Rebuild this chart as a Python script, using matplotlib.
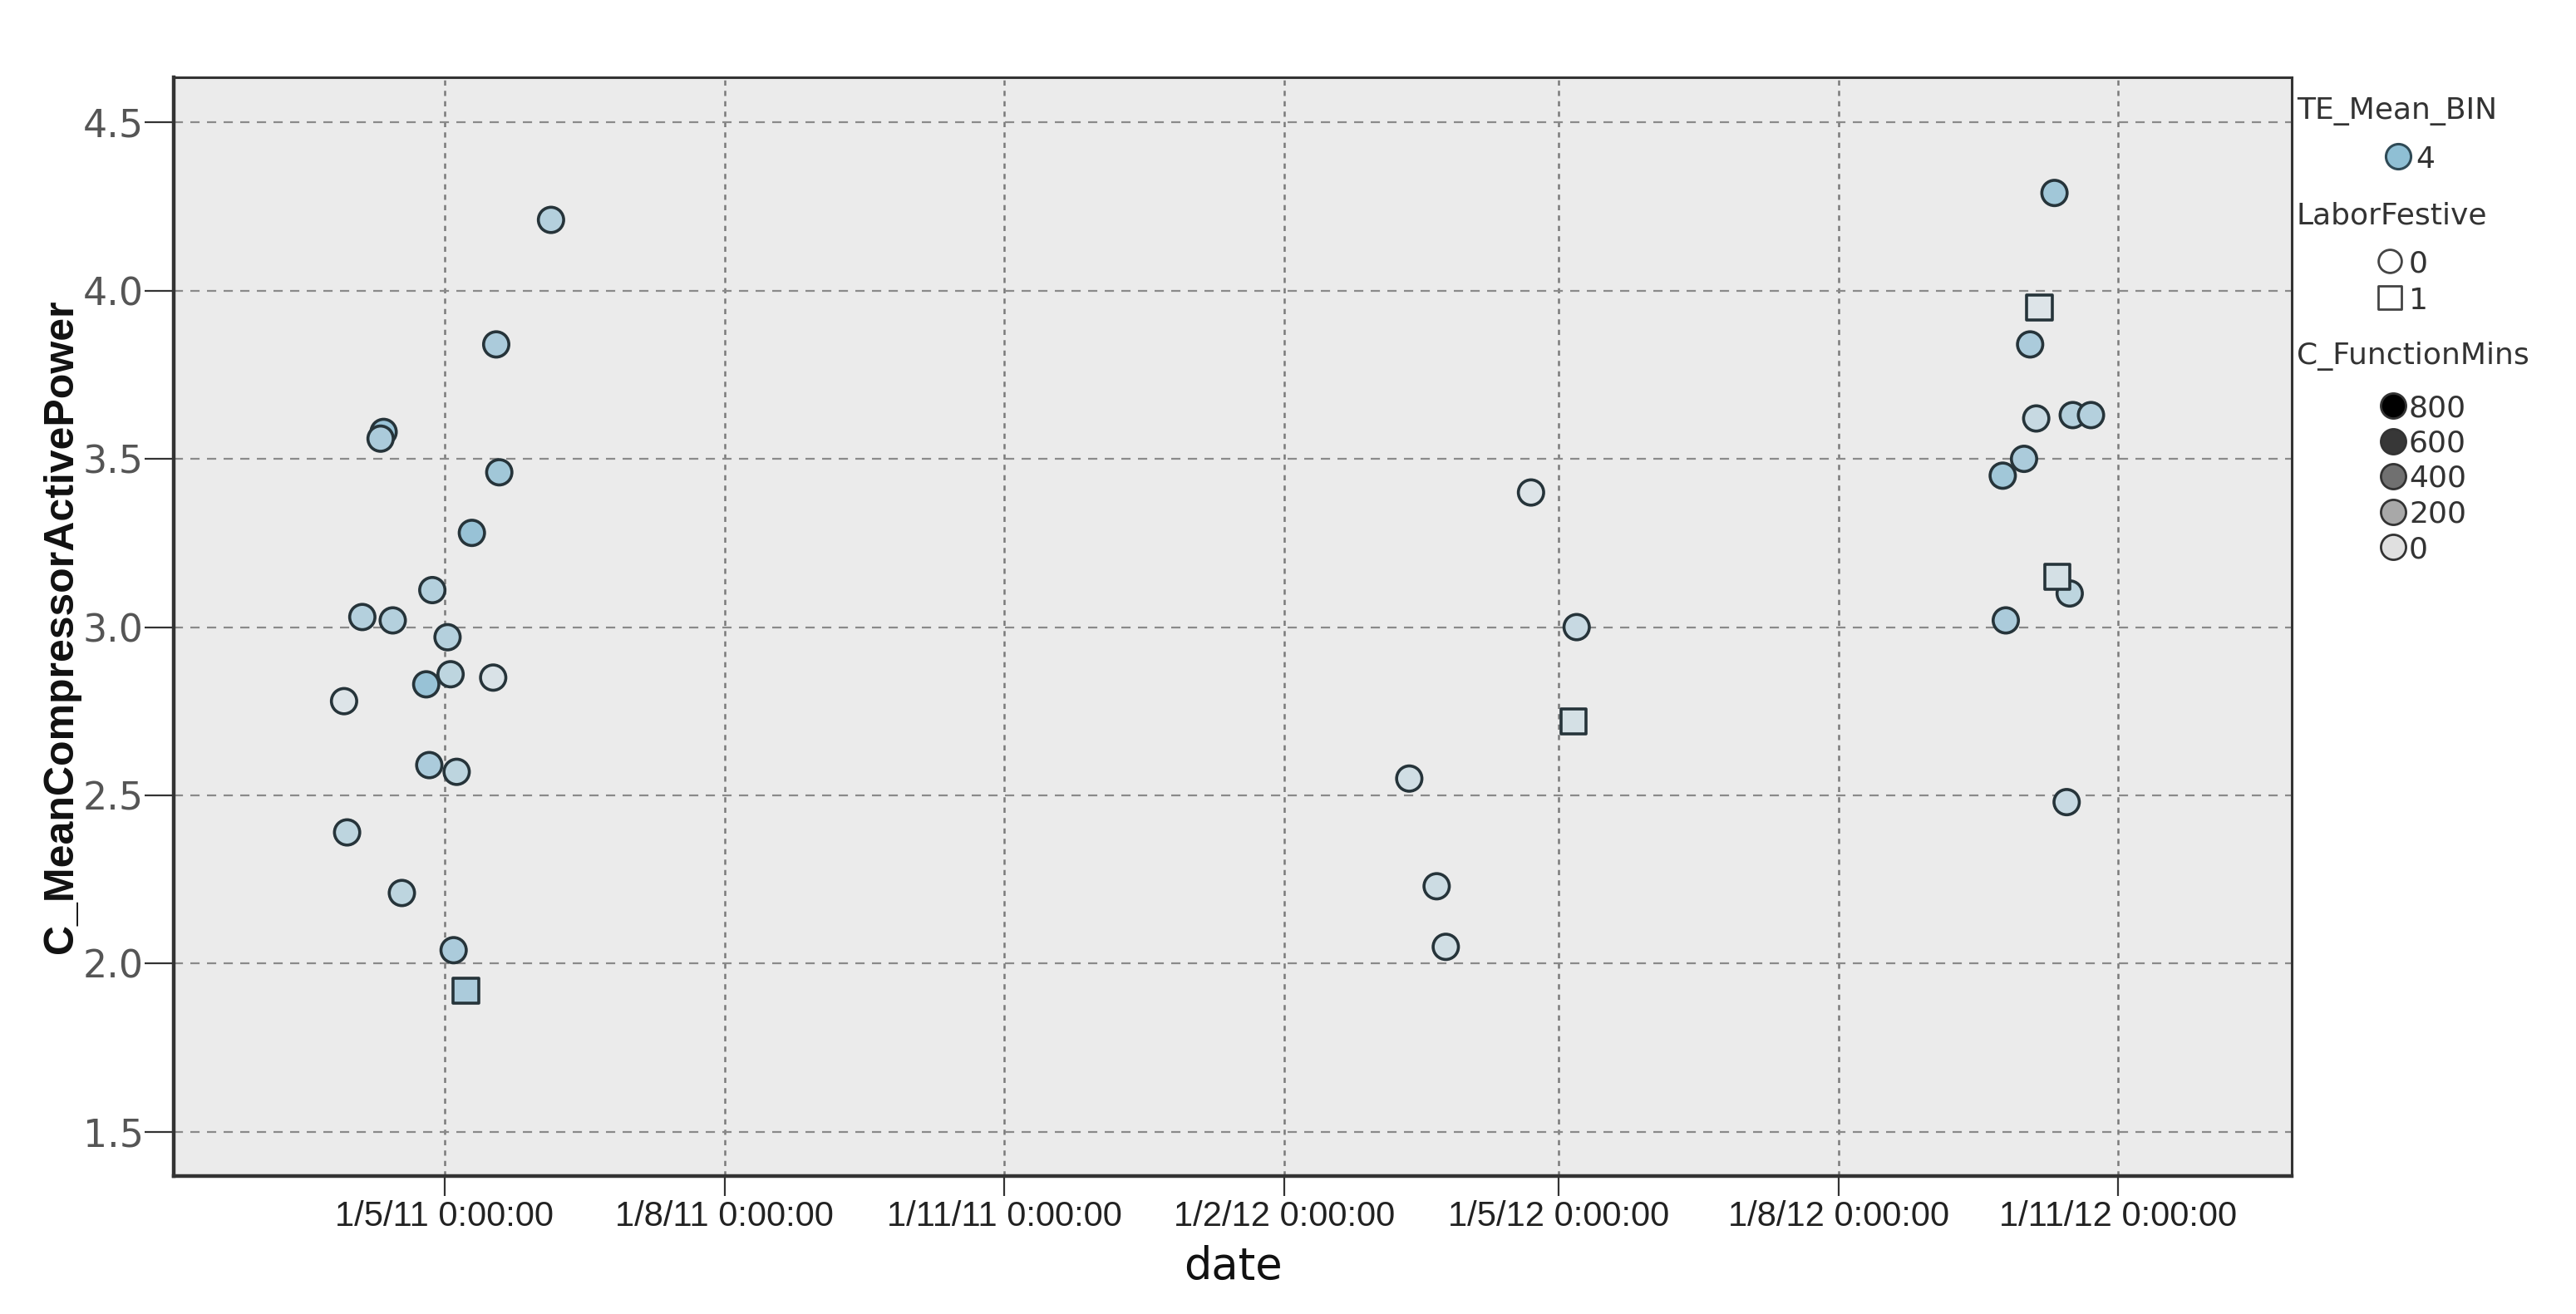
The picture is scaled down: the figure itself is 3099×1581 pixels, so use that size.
import datetime as dt
import matplotlib
matplotlib.use('Agg')
import matplotlib.pyplot as plt
import matplotlib.dates as mdates
from matplotlib.colors import LinearSegmentedColormap

# Data (date, mean compressor active power, labor festive flag, function mins)
dates = ['2011-06-05', '2011-05-18', '2011-04-11', '2011-04-10', '2011-05-19', '2011-05-10',
         '2011-04-27', '2011-04-04', '2011-04-14', '2011-05-02', '2011-05-03', '2011-04-25',
         '2011-05-17', '2011-03-29', '2011-04-26', '2011-05-05', '2011-03-30', '2011-04-17',
         '2011-05-04', '2011-05-08',
         '2012-03-13', '2012-03-22', '2012-03-25', '2012-04-22', '2012-05-07', '2012-05-06',
         '2012-10-11', '2012-10-06', '2012-10-03', '2012-10-05', '2012-10-17', '2012-10-23',
         '2012-10-01', '2012-09-24', '2012-10-12', '2012-10-16', '2012-09-25', '2012-10-15']
power = [4.21, 3.84, 3.58, 3.56, 3.46, 3.28,
         3.11, 3.03, 3.02, 2.97, 2.86, 2.83,
         2.85, 2.78, 2.59, 2.57, 2.39, 2.21,
         2.04, 1.92,
         2.55, 2.23, 2.05, 3.40, 3.00, 2.72,
         4.29, 3.95, 3.84, 3.62, 3.63, 3.63,
         3.50, 3.45, 3.15, 3.10, 3.02, 2.48]
labor_festive = [0, 0, 0, 0, 0, 0,
                 0, 0, 0, 0, 0, 0,
                 0, 0, 0, 0, 0, 0,
                 0, 1,
                 0, 0, 0, 0, 0, 1,
                 0, 1, 0, 0, 0, 0,
                 0, 0, 1, 0, 0, 0]
function_mins = [250, 300, 400, 300, 350, 400,
                 250, 250, 250, 250, 200, 400,
                 50, 30, 300, 200, 200, 200,
                 300, 300,
                 100, 120, 100, 30, 150, 80,
                 350, 30, 300, 150, 250, 250,
                 300, 350, 80, 200, 300, 150]

x_ticks = ['2011-05-01', '2011-08-01', '2011-11-01', '2012-02-01',
           '2012-05-01', '2012-08-01', '2012-11-01']
y_ticks = [1.5, 2.0, 2.5, 3.0, 3.5, 4.0, 4.5]
legend_mins = [800, 600, 400, 200, 0]

to_date = lambda s: dt.datetime.strptime(s, '%Y-%m-%d')

narrow = ['Liberation Sans Narrow', 'Liberation Sans', 'DejaVu Sans']
bg = '#ebebeb'
edge = '#26343a'
fill_cmap = LinearSegmentedColormap.from_list('fm', ['#e2e7e9', '#86b9d1'])

fig = plt.figure(figsize=(30.99, 15.81), dpi=100)
ax = fig.add_axes([0.0674, 0.105, 0.8223, 0.836])
ax.set_facecolor(bg)

for flag, marker in [(0, 'o'), (1, 's')]:
    xs = [to_date(d) for d, f in zip(dates, labor_festive) if f == flag]
    ys = [p for p, f in zip(power, labor_festive) if f == flag]
    cs = [fill_cmap(min(m, 500) / 500) for m, f in zip(function_mins, labor_festive) if f == flag]
    ax.scatter(xs, ys, s=480, marker=marker, c=cs, edgecolors=edge, linewidths=2.6, zorder=3)

ax.set_xlim(to_date('2011-02-01'), to_date('2012-12-28'))
ax.set_ylim(1.369, 4.633)
ax.set_xticks([to_date(t) for t in x_ticks])
ax.xaxis.set_major_formatter(mdates.DateFormatter('%-d/%-m/%y %-H:%M:%S'))
ax.set_yticks(y_ticks)
ax.set_yticklabels([f'{v:.1f}' for v in y_ticks])

ax.grid(axis='y', color='#8a8a8a', linestyle=(0, (5, 4)), linewidth=1.6)
ax.grid(axis='x', color='#7a7a7a', linestyle=(0, (2.5, 2.5)), linewidth=1.8)
ax.set_axisbelow(True)

for side in ['top', 'right', 'bottom', 'left']:
    ax.spines[side].set_color('#333333')
    ax.spines[side].set_linewidth(2.2)
ax.spines['bottom'].set_linewidth(3.2)
ax.spines['left'].set_linewidth(3.2)

ax.tick_params(axis='y', length=25, width=1.6, color='#333333', pad=1,
               labelsize=33, labelcolor='#555555')
ax.tick_params(axis='x', length=17, width=1.6, color='#333333', pad=4,
               labelsize=30, labelcolor='#222222')
for lbl in ax.get_xticklabels():
    lbl.set_family(narrow)

ax.set_ylabel('C_MeanCompressorActivePower', family=narrow, fontweight='bold',
              fontsize=36, color='#111111', labelpad=2)
ax.set_xlabel('date', fontsize=38, color='#111111', labelpad=10)

# legend drawn in figure pixel coordinates
lg = fig.add_axes([0, 0, 1, 1], zorder=5)
lg.set_xlim(0, 3099)
lg.set_ylim(1581, 0)
lg.axis('off')
txt = dict(fontsize=26, color='#333333', va='center', ha='left')

lg.text(2763, 134, 'TE_Mean_BIN', **txt)
lg.scatter([2885], [188], s=470, c=['#8fbfd4'], edgecolors='#2f4a56', linewidths=2.2)
lg.text(2906, 192, '4', **txt)

lg.text(2763, 259, 'LaborFestive', **txt)
lg.scatter([2875], [314], s=400, marker='o', facecolors='white', edgecolors='#444444', linewidths=2)
lg.scatter([2875], [358], s=400, marker='s', facecolors='white', edgecolors='#444444', linewidths=2)
lg.text(2898, 318, '0', **txt)
lg.text(2898, 362, '1', **txt)

lg.text(2763, 429, 'C_FunctionMins', **txt)
gray_cmap = LinearSegmentedColormap.from_list('gm', ['#e0e0e0', '#000000'])
for i, m in enumerate(legend_mins):
    yy = 488 + i * 42.5
    lg.scatter([2879], [yy], s=470, c=[gray_cmap(m / 800)], edgecolors='#333333', linewidths=2)
    lg.text(2898, yy + 3, str(m), **txt)

fig.savefig('out.png', dpi=100, facecolor='white')
